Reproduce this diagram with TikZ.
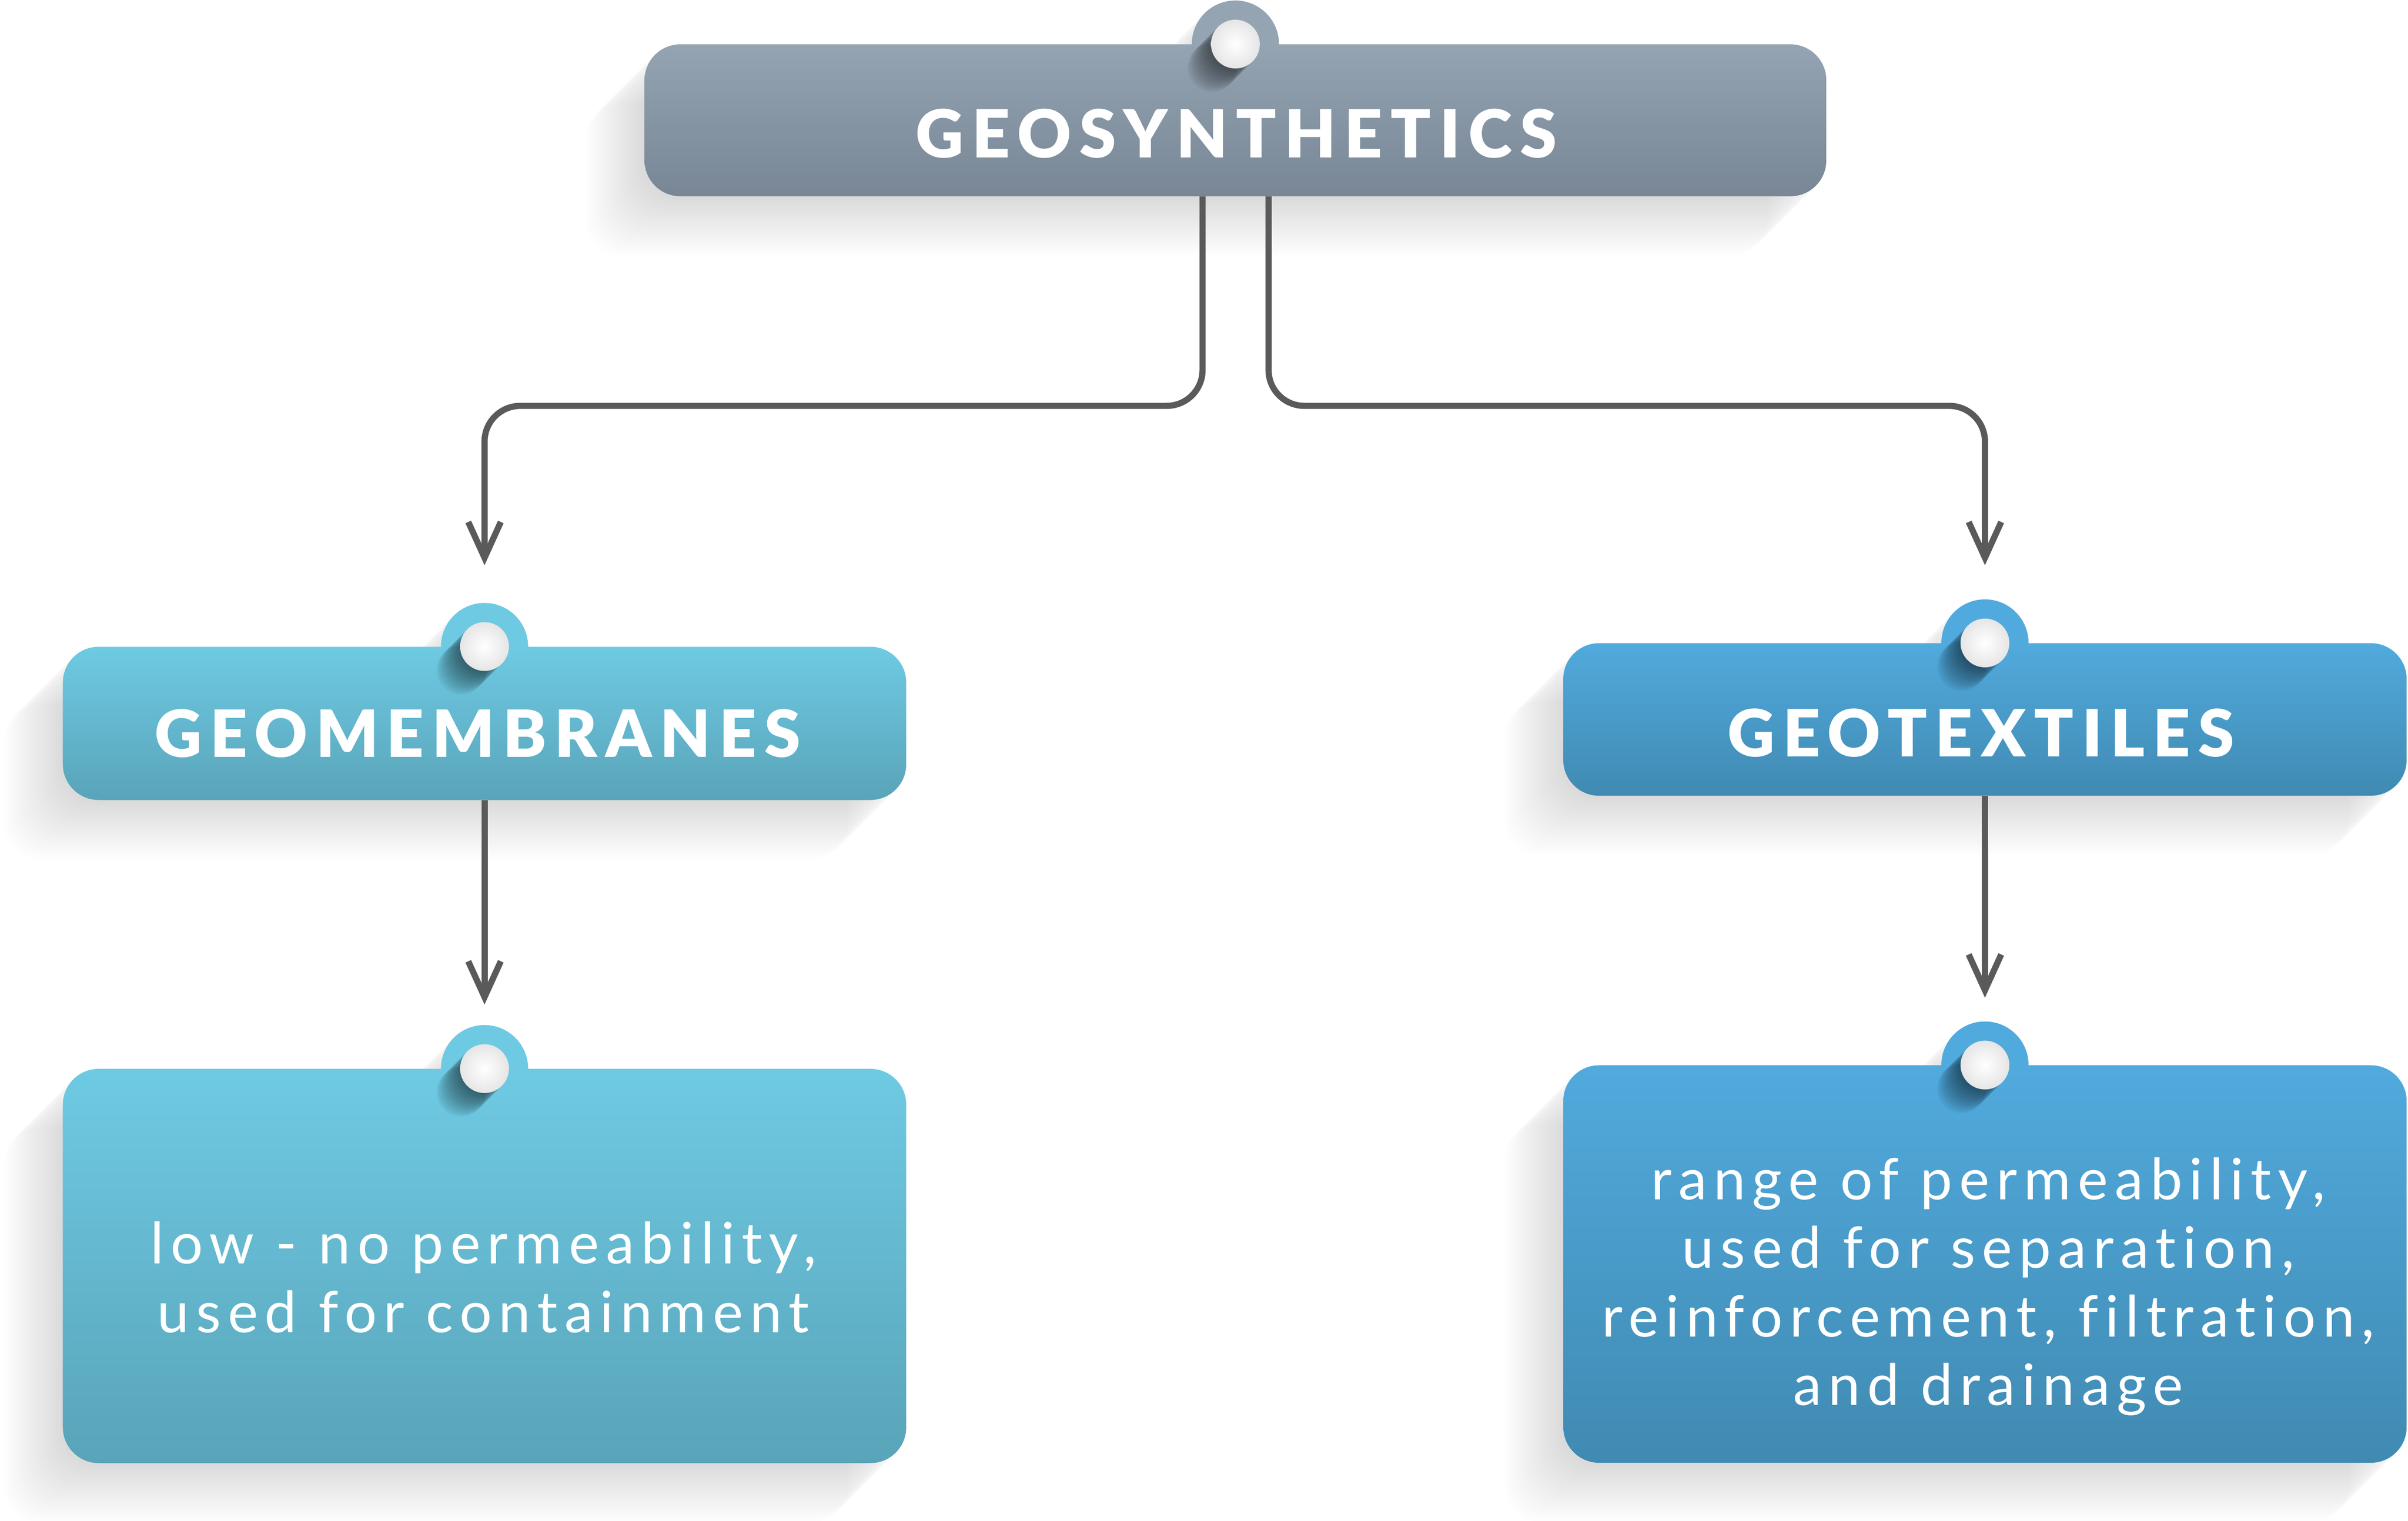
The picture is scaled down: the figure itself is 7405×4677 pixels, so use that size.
\documentclass[tikz,border=0pt]{standalone}
\usepackage{fontspec}
\setmainfont{Lato}
\newfontfamily\headfont{Lato Black}[LetterSpace=12.5]
\newfontfamily\bodyfont{Lato}[LetterSpace=12,Ligatures=NoCommon]
\usetikzlibrary{arrows.meta,backgrounds,positioning}
\definecolor{greytop}{RGB}{148,164,178}
\definecolor{greybot}{RGB}{120,134,149}
\definecolor{cyantop}{RGB}{110,202,227}
\definecolor{cyanbot}{RGB}{89,164,185}
\definecolor{bluetop}{RGB}{81,170,221}
\definecolor{bluebot}{RGB}{64,138,178}
\definecolor{linegrey}{RGB}{90,90,90}

\begin{document}
\begin{tikzpicture}
	[x=0.01cm,y=-0.01cm,
	box/.style={rectangle,rounded corners=1.1cm,inner sep=0pt,
		minimum width=25.92cm},
	greybox/.style={box,top color=greytop,bottom color=greybot},
	cyanbox/.style={box,top color=cyantop,bottom color=cyanbot},
	bluebox/.style={box,top color=bluetop,bottom color=bluebot},
	tabdisc/.style={circle,inner sep=0pt,minimum size=2.68cm},
	tabdot/.style={circle,inner sep=0pt,minimum size=1.5cm,
		inner color=white,outer color=black!10},
	head/.style={text=white,font=\headfont\fontsize{57}{60}\selectfont},
	body/.style={text=white,align=center,
		font=\bodyfont\fontsize{50}{60}\selectfont},
	link/.style={draw=linegrey,line width=0.19cm,rounded corners=1.1cm,
		-{Straight Barb[length=1.1cm,width=1cm]}}]
	\useasboundingbox (0,0) rectangle (7405,4677);

	%boxes
	\node[greybox,minimum width=36.32cm,minimum height=4.67cm] (geosyn) at (3799,370) {};
	\node[cyanbox,minimum height=4.71cm] (geomem) at (1490,2225) {};
	\node[bluebox,minimum height=4.69cm] (geotex) at (6104,2213) {};
	\node[cyanbox,minimum height=12.12cm] (memtext) at (1490,3894) {};
	\node[bluebox,minimum height=12.22cm] (textext) at (6104,3888) {};

	%shadows and tabs
	\begin{scope}[on background layer]
	\foreach \n/\c in {geosyn/greytop,geomem/cyantop,geotex/bluetop,memtext/cyantop,textext/bluetop}{
		\foreach \s in {1,...,18}{
			\fill[black,opacity=0.0085,rounded corners=1.1cm] ([shift={(-10*\s,10*\s)}]\n.north west) rectangle ([shift={(-10*\s,10*\s)}]\n.south east);
			\fill[black,opacity=0.0085] ([shift={(-10*\s,10*\s)}]\n.north) circle (1.34cm);
		}
		\node[tabdisc,fill=\c] (\n-tab) at (\n.north) {};
	}
	\end{scope}

	\foreach \n in {geosyn,geomem,geotex,memtext,textext}{
		\foreach \s in {1,...,12}
			\fill[black,opacity=0.05] ([shift={(-6*\s,6*\s)}]\n.north) circle (0.75cm);
		\node[tabdot] (\n-dot) at (\n.north) {};
	}

	%texts
	\node[head,font=\headfont\fontsize{58}{60}\selectfont] (geosynT) at (3802,410) {GEOSYNTHETICS};
	\node[head] (geomemT) at (1469,2256) {GEOMEMBRANES};
	\node[head] (geotexT) at (6092,2255) {GEOTEXTILES};
	\node[body] (memtextT) at (1486,3929) {low - no permeability,\\used for containment};
	\node[body] (textextT) at (6114,3957) {range of permeability,\\used for separation,\\reinforcement, filtration,\\and drainage};

	%arrows
	\draw[link,shorten >=2.5cm] ([xshift=-1.01cm]geosyn.south) -- ++(0,644) -| (geomem.north);
	\draw[link,shorten >=2.39cm] ([xshift=1.02cm]geosyn.south) -- ++(0,644) -| (geotex.north);
	\draw[link,shorten >=1.97cm] (geomem) -- (memtext);
	\draw[link,shorten >=2.07cm] (geotex) -- (textext);
\end{tikzpicture}
\end{document}
